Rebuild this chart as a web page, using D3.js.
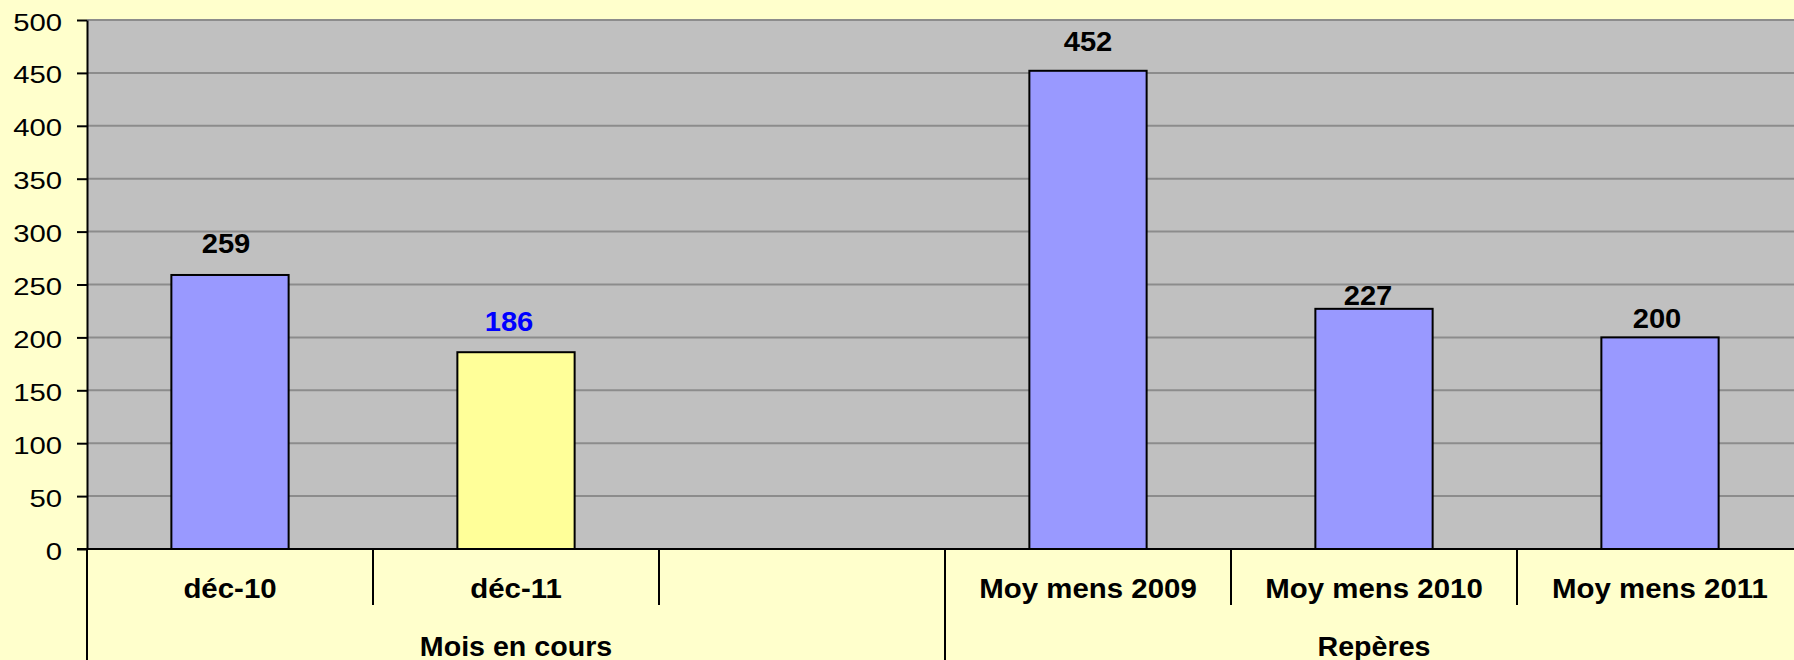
<!DOCTYPE html>
<html lang="fr">
<head>
<meta charset="utf-8">
<title>Mois en cours / Repères</title>
<script src="https://d3js.org/d3.v7.min.js"></script>
<style>
  body { margin: 0; background: #FFFFCC; }
  svg { display: block; font-family: "Liberation Sans", Arial, sans-serif; }
</style>
</head>
<body>
<div id="chart"></div>
<script>
// data
var categories = ["déc-10", "déc-11", "", "Moy mens 2009", "Moy mens 2010", "Moy mens 2011"];
var values = [259, 186, null, 452, 227, 200];
var groups = ["Mois en cours", "Repères"];
var groupOf = [0, 0, 0, 1, 1, 1];
var yTicks = [0, 50, 100, 150, 200, 250, 300, 350, 400, 450, 500];

// layout / style
var W = 1794, H = 660;
var plot = {left: 87, right: 1803, top: 20, bottom: 549};
var barFill = ["#9999FF", "#FFFF99", "#9999FF", "#9999FF", "#9999FF", "#9999FF"];
var labelFill = ["#000", "#0000FF", "#000", "#000", "#000", "#000"];
// labels were nudged by hand in the original
var labelGap = [22, 21, 0, 20, 4, 9];
var labelShift = [-4, -7, 0, 0, -6, -3];

var svg = d3.select("#chart").append("svg")
    .attr("width", W)
    .attr("height", H);

svg.append("rect").attr("width", W).attr("height", H).attr("fill", "#FFFFCC");

var x = d3.scaleBand()
    .domain(d3.range(categories.length))
    .range([plot.left, plot.right])
    .padding(0);

var y = d3.scaleLinear()
    .domain([0, 500])
    .range([plot.bottom, plot.top]);

// plot area
svg.append("rect")
    .attr("x", plot.left)
    .attr("y", plot.top)
    .attr("width", plot.right - plot.left)
    .attr("height", plot.bottom - plot.top)
    .attr("fill", "#C0C0C0");

// gridlines
svg.selectAll("line.grid")
  .data(yTicks.filter(function(d) { return d > 0; }))
  .enter().append("line")
    .attr("class", "grid")
    .attr("x1", plot.left).attr("x2", plot.right)
    .attr("y1", function(d) { return y(d); })
    .attr("y2", function(d) { return y(d); })
    .attr("stroke", "#8C8C8C")
    .attr("stroke-width", 2);

var bw = x.bandwidth() * 0.41;

// bars
var barData = values.map(function(v, i) { return {i: i, v: v}; })
    .filter(function(d) { return d.v !== null; });

svg.selectAll("rect.bar")
  .data(barData)
  .enter().append("rect")
    .attr("class", "bar")
    .attr("x", function(d) { return x(d.i) + (x.bandwidth() - bw) / 2; })
    .attr("y", function(d) { return y(d.v); })
    .attr("width", bw)
    .attr("height", function(d) { return y(0) - y(d.v); })
    .attr("fill", function(d) { return barFill[d.i]; })
    .attr("stroke", "#000")
    .attr("stroke-width", 2);

// value labels
svg.selectAll("text.val")
  .data(barData)
  .enter().append("text")
    .attr("class", "val")
    .attr("text-anchor", "middle")
    .attr("font-weight", "bold")
    .attr("font-size", 27)
    .attr("fill", function(d) { return labelFill[d.i]; })
    .attr("transform", function(d) {
      var cx = x(d.i) + x.bandwidth() / 2 + labelShift[d.i];
      return "translate(" + cx + "," + (y(d.v) - labelGap[d.i]) + ") scale(1.08,1)";
    })
    .text(function(d) { return d.v; });

// y axis
var yAxis = svg.append("g")
    .attr("transform", "translate(" + plot.left + ",0)")
    .call(d3.axisLeft(y).tickValues(yTicks).tickSize(10).tickSizeOuter(0));

yAxis.select(".domain").attr("stroke", "#000").attr("stroke-width", 2);
yAxis.selectAll(".tick line").attr("stroke", "#000").attr("stroke-width", 2);
yAxis.selectAll(".tick text")
    .attr("x", null).attr("dy", null)
    .attr("fill", "#000")
    .attr("font-size", 24)
    .attr("font-family", "'Liberation Sans', Arial, sans-serif")
    .attr("text-anchor", "end")
    .attr("transform", "translate(-25,10) scale(1.22,1)");

// baseline
svg.append("line")
    .attr("x1", plot.left - 10).attr("x2", plot.right)
    .attr("y1", y(0)).attr("y2", y(0))
    .attr("stroke", "#000").attr("stroke-width", 2);

// category dividers: inner ones short, group edges run to the bottom
var edges = d3.range(categories.length + 1).map(function(i) {
  return i < categories.length ? x(i) : x.range()[1];
});
svg.selectAll("line.div")
  .data(edges)
  .enter().append("line")
    .attr("class", "div")
    .attr("x1", function(d) { return d; })
    .attr("x2", function(d) { return d; })
    .attr("y1", y(0))
    .attr("y2", function(d, i) {
      var edge = i === 0 || i === categories.length || groupOf[i] !== groupOf[i - 1];
      return edge ? H : 605;
    })
    .attr("stroke", "#000").attr("stroke-width", 2);

// category labels
svg.selectAll("text.cat")
  .data(categories)
  .enter().append("text")
    .attr("class", "cat")
    .attr("text-anchor", "middle")
    .attr("font-weight", "bold")
    .attr("font-size", 27)
    .attr("transform", function(d, i) {
      return "translate(" + (x(i) + x.bandwidth() / 2) + ",598) scale(1.09,1)";
    })
    .text(function(d) { return d; });

// group labels
svg.selectAll("text.grp")
  .data(groups)
  .enter().append("text")
    .attr("class", "grp")
    .attr("text-anchor", "middle")
    .attr("font-weight", "bold")
    .attr("font-size", 27)
    .attr("transform", function(g, gi) {
      var idx = d3.range(categories.length).filter(function(i) { return groupOf[i] === gi; });
      var cx = (x(idx[0]) + x(idx[idx.length - 1]) + x.bandwidth()) / 2;
      return "translate(" + cx + ",656) scale(1.06,1)";
    })
    .text(function(d) { return d; });
</script>
</body>
</html>
